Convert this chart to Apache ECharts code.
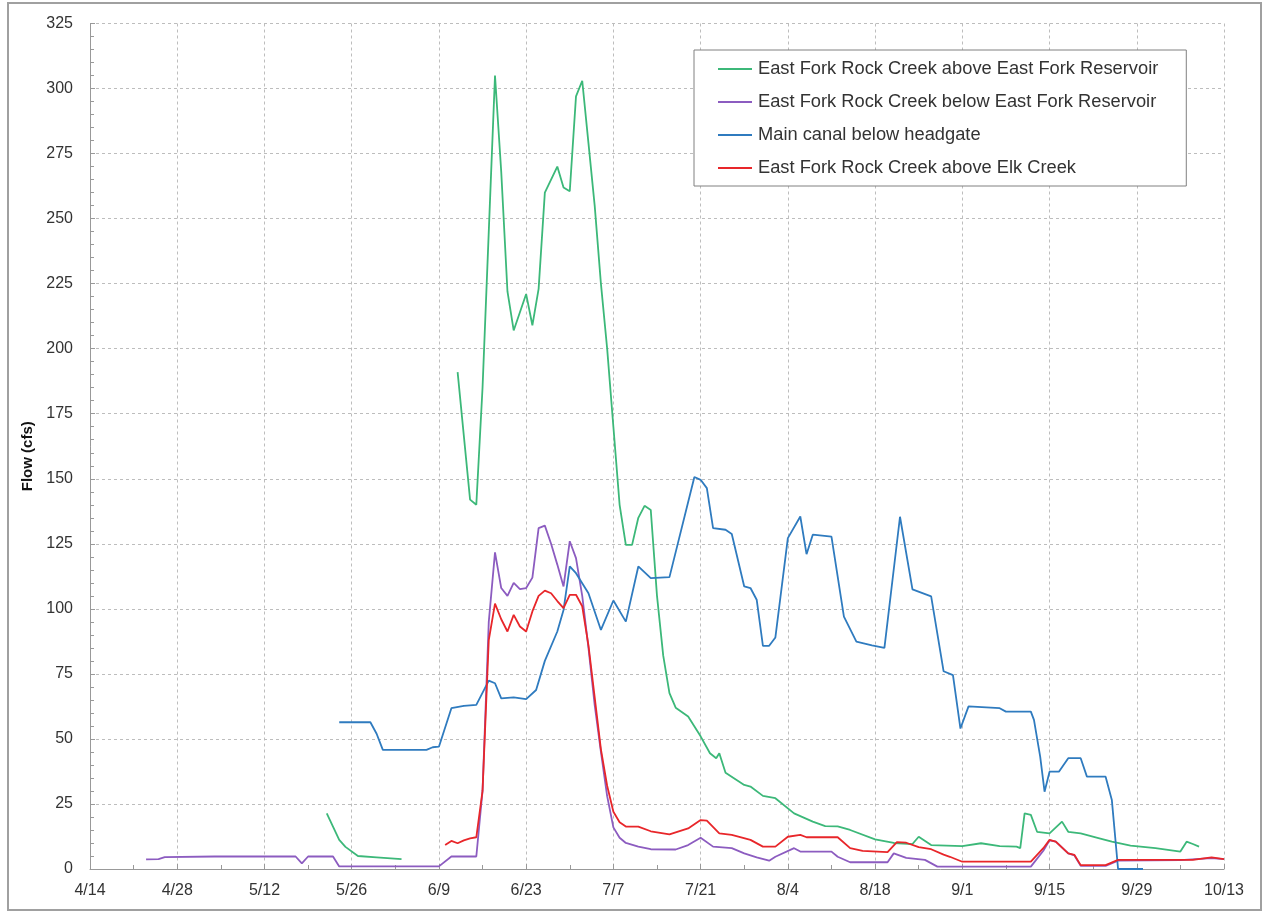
<!DOCTYPE html>
<html>
<head>
<meta charset="utf-8">
<script src="https://cdn.jsdelivr.net/npm/echarts@6/dist/echarts.min.js"></script>
<style>
  html, body { margin: 0; padding: 0; background: #fff; }
  #chart { position: absolute; left: 0; top: 0; width: 1265px; height: 911px; }
  #frame { position: absolute; left: 7px; top: 2px; width: 1251px; height: 905px; border: 2px solid #a0a0a0; pointer-events: none; }
</style>
</head>
<body>
<div id="chart"></div>
<div id="frame"></div>
<script>
// x values are days after 4/14
const xTickLabels = ['4/14','4/28','5/12','5/26','6/9','6/23','7/7','7/21','8/4','8/18','9/1','9/15','9/29','10/13'];
const yTicks = [0,25,50,75,100,125,150,175,200,225,250,275,300,325];

const seriesNames = [
  'East Fork Rock Creek above East Fork Reservoir',
  'East Fork Rock Creek below East Fork Reservoir',
  'Main canal below headgate',
  'East Fork Rock Creek above Elk Creek'
];

// East Fork Rock Creek above East Fork Reservoir (gap between the two records)
const aboveResDays = [38,39,40,41,43,46,50, 55,
  59,61,62,63,64,65,66,67,68,70,71,72,73,75,76,77,78,79,80,81,82,83,84,85,86,87,88,89,90,91,92,93,94,96,98,99.5,100.5,101,102,105,106,108,110,113,116,118,120,122,126,129,132,133,135,140,143,146,148.7,149.3,150,151,152,154,156,157,159,162,164,167,171,175,176,177,178];
const aboveResFlow = [21.4,16.3,11.2,8.5,5,4.5,3.8, null,
  191,142,140,185,245,305,268,222,207,221,209,223,260,270,262,260.5,297,303,279,255,225,200,170,140,124.6,124.6,135,139.6,138,105,82,67.6,62,58.6,51,44.5,42.6,44.5,37,32.3,31.7,28.1,27.2,21.4,18.2,16.5,16.4,15,11.4,10,9.6,12.4,9.2,8.8,9.9,8.8,8.6,8,21.4,20.8,14.3,13.7,18.2,14.3,13.7,11.8,10.5,9,8,6.7,10.5,9.6,8.6];

// East Fork Rock Creek below East Fork Reservoir
const belowResDays = [9,11,12,20,33,34,35,39,40,48,56,58,62,63,64,65,66,67,68,69,70,71,72,73,74,75,76,77,78,79,80,81,82,83,84,85,86,88,90,94,96,98,100,103,105,107,109,110,113,114,119,120,122,128,129,131,134,136,151,153,154,155,157,158,159,163,165,175,180,182];
const belowResFlow = [3.7,3.8,4.6,4.8,4.8,2.2,4.8,4.8,1,1,1,4.8,4.8,30,95,121.7,108,105,110,107.6,108,112,131,132,125,117,108.6,126,119.5,105,85,63,45,28,16,12,10,8.6,7.6,7.5,9.2,12,8.6,8,6,4.5,3.2,4.7,8,6.7,6.7,4.7,2.6,2.6,6,4.3,3.5,0.9,0.9,7,11,10.5,6,5.2,1.2,1.2,3.2,3.4,4.2,3.8];

// Main canal below headgate
const canalDays = [40,45,46,47,54,55,56,58,60,62,64,65,66,68,70,71.6,73,75,76,77,78,80,82,84,86,88,90,93,97,98,99,100,102,103,105,106,107,108,109,110,112,114,115,116,119,121,123,125.5,127.5,130,132,135,137,138.5,139.7,141,146,147,151,151.5,152.5,153.2,154,155.5,157,159,160,163,164,165,169];
const canalFlow = [56.4,56.4,52,45.8,45.8,46.8,47,61.8,62.7,63.1,72.4,71.4,65.6,66,65.3,68.8,80,91.3,99.6,116.3,113.7,106,91.9,103.2,95.1,116.3,111.8,112.2,150.7,149.6,146.4,131,130.4,128.8,108.6,108,103.5,85.8,85.8,89,127.2,135.5,121,128.5,127.8,97,87.4,86,85,135.4,107.5,104.8,76,74.5,54,62.5,61.8,60.5,60.5,57.3,43.2,29.7,37.4,37.4,42.6,42.6,35.5,35.5,26.5,0,0];

// East Fork Rock Creek above Elk Creek
const elkDays = [57,58,59,60,61,62,63,64,65,66,67,68,69,70,71,72,73,74,75,76,77,78,79,80,81,82,83,84,85,86,88,90,93,96,98,99,101,103,106,108,110,112,114,115,120,122,124,128,129.5,131,133,135,137,138,140,151,153,154,155,157,158,159,163,165,167,177,180,182];
const elkFlow = [9.2,10.8,9.9,11,11.8,12.2,30,88,102,96,91.3,97.7,93.2,91.3,99,105,107,106,103,100.3,105.4,105.4,101,86,66,46,32,22,18,16.3,16.3,14.5,13.3,15.6,18.8,18.6,13.7,13.1,11.2,8.6,8.6,12.4,13.1,12.2,12.2,8,7,6.5,10.3,10.1,8.4,7.6,5.5,4.7,2.8,2.8,8,11.2,10.5,6,5.4,1.5,1.5,3.5,3.5,3.5,4.5,3.8];

const colors = ['#3cb879', '#8c5cc0', '#2f7bbf', '#e8262a'];

function pairs(days, flows) { return days.map((d, i) => [d, flows[i]]); }

const FONT = '"Liberation Sans", Arial, sans-serif';
const chart = echarts.init(document.getElementById('chart'), null, { renderer: 'canvas' });

const seriesData = [
  pairs(aboveResDays, aboveResFlow),
  pairs(belowResDays, belowResFlow),
  pairs(canalDays, canalFlow),
  pairs(elkDays, elkFlow)
];

chart.setOption({
  animation: false,
  backgroundColor: '#ffffff',
  color: colors,
  grid: { left: 90, right: 41, top: 23.5, bottom: 42 },
  legend: {
    orient: 'vertical',
    left: 694, top: 50,
    padding: [10, 28, 9, 24],
    icon: 'rect',
    itemWidth: 34, itemHeight: 2, itemGap: 15,
    borderColor: '#808080', borderWidth: 1,
    backgroundColor: '#fff',
    textStyle: { fontFamily: FONT, fontSize: 18.3, color: '#333', padding: [0, 0, 0, 1] },
    data: seriesNames
  },
  xAxis: {
    type: 'value', min: 0, max: 182, interval: 14,
    axisLine: { show: true, lineStyle: { color: '#999', width: 1 } },
    axisTick: { show: true, inside: true, length: 5, lineStyle: { color: '#999' } },
    minorTick: { show: true, splitNumber: 2, length: 4, lineStyle: { color: '#999' } },
    splitLine: { show: true, lineStyle: { color: '#bdbdbd', type: [3, 3], width: 1 } },
    axisLabel: {
      fontFamily: FONT, fontSize: 16, color: '#333', margin: 14,
      formatter: v => xTickLabels[Math.round(v / 14)]
    }
  },
  yAxis: {
    type: 'value', min: 0, max: 325, interval: 25,
    name: 'Flow (cfs)', nameLocation: 'middle', nameGap: 50, nameRotate: 90,
    nameTextStyle: { fontFamily: FONT, fontSize: 15, fontWeight: 'bold', color: '#111', padding: [0, 20, 0, 0] },
    axisLine: { show: true, lineStyle: { color: '#999', width: 1 } },
    axisTick: { show: true, inside: true, length: 5, lineStyle: { color: '#999' } },
    minorTick: { show: true, splitNumber: 5, length: 4, lineStyle: { color: '#999' } },
    splitLine: { show: true, lineStyle: { color: '#bdbdbd', type: [3, 3], width: 1 } },
    axisLabel: {
      fontFamily: FONT, fontSize: 16, color: '#333', margin: 17,
      formatter: v => (yTicks.indexOf(v) >= 0 ? String(v) : '')
    }
  },
  series: seriesNames.map((name, i) => ({
    name: name,
    type: 'line',
    data: seriesData[i],
    symbol: 'none',
    connectNulls: false,
    lineStyle: { width: 1.8, color: colors[i] },
    itemStyle: { color: colors[i] },
    z: 2 + i
  }))
});
</script>
</body>
</html>
